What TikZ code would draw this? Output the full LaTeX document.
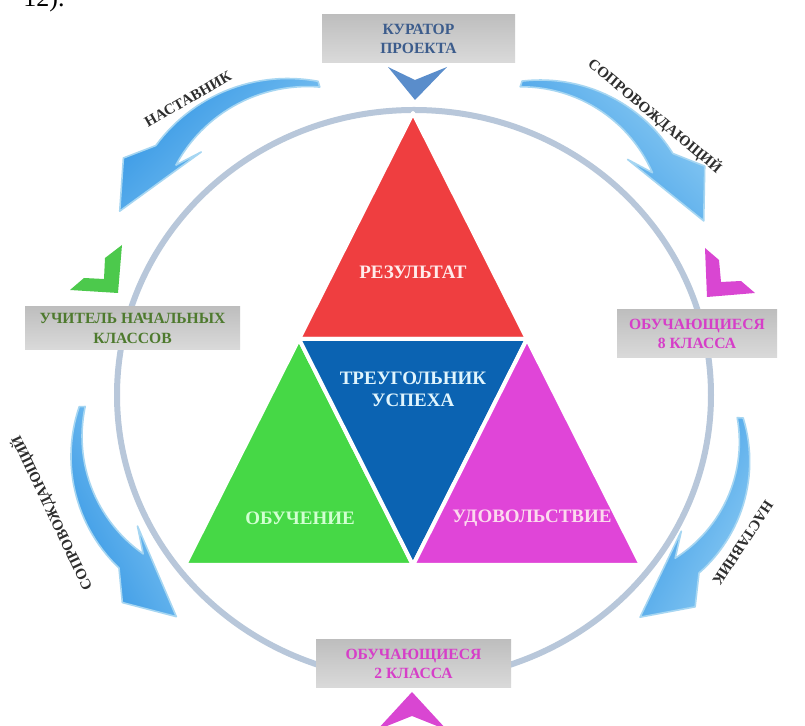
\documentclass[tikz,border=0pt]{standalone}
\usepackage{fontspec}
\setmainfont{Liberation Serif}

\definecolor{ringgray}{HTML}{B8C7DA}
\definecolor{swooshblue}{HTML}{3597E5}
\definecolor{swooshlight}{HTML}{8ACAF3}
\definecolor{swooshedge}{HTML}{A6D6F2}
\definecolor{labelgray}{HTML}{2E2E2E}
\definecolor{resultred}{HTML}{EF3E40}
\definecolor{learngreen}{HTML}{46D846}
\definecolor{successblue}{HTML}{0B63B2}
\definecolor{joypink}{HTML}{E045D8}
\definecolor{boxtop}{HTML}{BEBEBE}
\definecolor{boxbottom}{HTML}{DADADA}
\definecolor{curatorblue}{HTML}{3C5C8C}
\definecolor{teachergreen}{HTML}{4E7A2E}
\definecolor{pupilpink}{HTML}{D63EC8}
\definecolor{chevronblue}{HTML}{5A8DCB}
\definecolor{chevrongreen}{HTML}{4CC94C}
\definecolor{chevronpink}{HTML}{D946D2}

% curved arrow round the ring: a1 a2 a3 r1 r2 r3 shading
\newcommand{\swoosh}[7]{%
  \path[swooshstyle, shading angle=#7]
    plot[variable=\q, domain=0:1, samples=30]
      ({414+((#4)+((#5)-(#4))*\q+56*\q*(1-\q)+3+11*\q)*cos((#1)+((#2)-(#1))*\q)},
       {395+((#4)+((#5)-(#4))*\q+56*\q*(1-\q)+3+11*\q)*sin((#1)+((#2)-(#1))*\q)})
    -- ({414+((#5)+30)*cos((#2)+0.4*((#3)-(#2)))},{395+((#5)+30)*sin((#2)+0.4*((#3)-(#2)))})
    -- ({414+(#6)*cos(#3)},{395+(#6)*sin(#3)})
    -- ({414+((#5)-22)*cos((#2)-0.4*((#3)-(#2)))},{395+((#5)-22)*sin((#2)-0.4*((#3)-(#2)))})
    -- plot[variable=\q, domain=1:0, samples=30]
      ({414+((#4)+((#5)-(#4))*\q+56*\q*(1-\q)-3-11*\q)*cos((#1)+((#2)-(#1))*\q)},
       {395+((#4)+((#5)-(#4))*\q+56*\q*(1-\q)-3-11*\q)*sin((#1)+((#2)-(#1))*\q)})
    -- cycle;
}

\begin{document}
\begin{tikzpicture}[x=0.5pt,y=-0.5pt]
    \tikzstyle{ring}=[draw=ringgray, line width=3pt]
    \tikzstyle{swooshstyle}=[draw=swooshedge, line width=0.8pt, line join=round,
                             left color=swooshblue, right color=swooshlight]
    \tikzstyle{swooshlabel}=[text=labelgray, inner sep=0pt, font=\fontsize{7.5}{9}\selectfont\bfseries]
    \tikzstyle{piece}=[draw=white, line width=2pt, line join=round]
    \tikzstyle{trilabel}=[align=center, inner sep=0pt, font=\fontsize{9.5}{11}\selectfont\bfseries]
    \tikzstyle{infobox}=[top color=boxtop, bottom color=boxbottom, inner sep=0pt, align=center,
                         font=\fontsize{7.8}{9.6}\selectfont\bfseries]

    \useasboundingbox (0,0) rectangle (805,726);
    \clip (0,0) rectangle (805,726);
    \fill[white] (0,0) rectangle (805,726);

    % cut line of text above the picture
    \node[anchor=base east, inner sep=0pt, font=\fontsize{13}{15}\selectfont] (fragment) at (65,7) {12).};

    % ring
    \draw[ring] (414,395) ellipse [x radius=297, y radius=285];

    % arrows
    \swoosh{-107}{-136}{-148}{325}{345}{347}{45}
    \swoosh{-71}{-43}{-31}{329}{340}{338}{135}
    \swoosh{4}{32}{44.5}{327}{322}{317}{63}
    \swoosh{178}{149.6}{137}{332}{328}{325}{117}

    \node[swooshlabel, rotate=29.5] (mentortop) at (188,99) {НАСТАВНИК};
    \node[swooshlabel, rotate=-40] (escorttop) at (655,116) {СОПРОВОЖДАЮЩИЙ};
    \node[swooshlabel, rotate=236.5] (mentorbottom) at (743,543) {НАСТАВНИК};
    \node[swooshlabel, rotate=115.5] (escortbottom) at (52,513) {СОПРОВОЖДАЮЩИЙ};

    % triangle
    \coordinate (apex) at (413,113);
    \coordinate (cornerl) at (185,565);
    \coordinate (cornerr) at (641,565);
    \coordinate (midl) at (299,339);
    \coordinate (midr) at (527,339);
    \coordinate (midb) at (413,565);
    \filldraw[piece, fill=resultred] (apex) -- (midl) -- (midr) -- cycle;
    \filldraw[piece, fill=learngreen] (midl) -- (cornerl) -- (midb) -- cycle;
    \filldraw[piece, fill=successblue] (midl) -- (midr) -- (midb) -- cycle;
    \filldraw[piece, fill=joypink] (midr) -- (midb) -- (cornerr) -- cycle;

    \node[trilabel, text=red!8] (result) at (413,272) {РЕЗУЛЬТАТ};
    \node[trilabel, text=cyan!12] (success) at (413,389) {ТРЕУГОЛЬНИК\\УСПЕХА};
    \node[trilabel, text=green!18] (learning) at (300,518) {ОБУЧЕНИЕ};
    \node[trilabel, text=magenta!15] (joy) at (532,518) {УДОВОЛЬСТВИЕ};

    % boxes
    \node[infobox, minimum width=96.5pt, minimum height=24pt, text=curatorblue] (curator) at (418.5,39) {КУРАТОР\\ПРОЕКТА};
    \node[infobox, minimum width=107.5pt, minimum height=21.5pt, text=teachergreen] (teacher) at (132.5,328.5) {УЧИТЕЛЬ НАЧАЛЬНЫХ\\КЛАССОВ};
    \node[infobox, minimum width=80pt, minimum height=24pt, text=pupilpink] (eighth) at (697,334) {ОБУЧАЮЩИЕСЯ\\8 КЛАССА};
    \node[infobox, minimum width=97.5pt, minimum height=24pt, text=pupilpink] (second) at (413.5,664) {ОБУЧАЮЩИЕСЯ\\2 КЛАССА};

    % chevrons
    \fill[chevronblue] (388,67) -- (415,80) -- (447,67) -- (415,100) -- cycle;
    \fill[chevrongreen] (122,245) -- (118,293) -- (70,290) -- (84,278) -- (104,279) -- (105,258) -- cycle;
    \fill[chevronpink] (705,248) -- (707,297) -- (755,293) -- (741,281) -- (721,282) -- (719,260) -- cycle;
    \fill[chevronpink] (412,692) -- (447,730) -- (412,716) -- (377,730) -- cycle;
\end{tikzpicture}
\end{document}
